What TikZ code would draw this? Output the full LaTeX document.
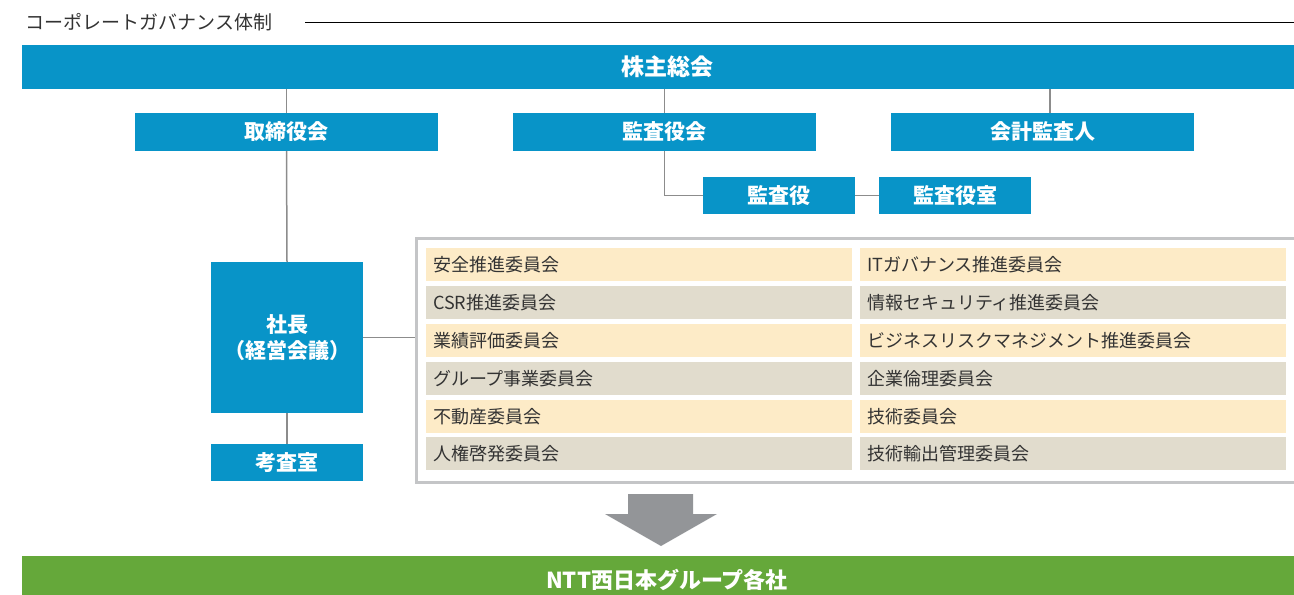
\documentclass[tikz,border=0pt]{standalone}
\usepackage{fontspec}
\setmainfont{Noto Sans CJK JP}
\usepackage{xcolor}
\usepackage{tikz}
\usetikzlibrary{positioning}
\definecolor{nttblue}{HTML}{0894C8}
\definecolor{nttgreen}{HTML}{65A83A}
\definecolor{rowcream}{HTML}{FDEBC7}
\definecolor{rowbeige}{HTML}{E1DCCD}
\definecolor{linkgray}{HTML}{8C8C8C}
\definecolor{framegray}{HTML}{C4C5C7}
\definecolor{arrowgray}{HTML}{939598}
\definecolor{ink}{HTML}{333333}

\begin{document}
\begin{tikzpicture}[x=0.5pt, y=-0.5pt, line cap=butt,
  bluebox/.style={fill=nttblue, text=white, inner sep=0pt, outer sep=0pt, anchor=north west,
    font=\fontsize{10.5pt}{13pt}\selectfont\bfseries, align=center},
  widebox/.style={bluebox, minimum width=151.5pt, minimum height=19pt},
  smallbox/.style={bluebox, minimum width=76pt, minimum height=18.5pt},
  rowcell/.style={anchor=north west, inner sep=0pt, inner xsep=3.5pt, outer sep=0pt,
    minimum width=213pt, minimum height=16.5pt, text width=206pt, align=left,
    text=ink, font=\fontsize{9pt}{11pt}\selectfont},
  oddrow/.style={rowcell, fill=rowcream},
  evenrow/.style={rowcell, fill=rowbeige},
  link/.style={draw=linkgray, line width=0.75pt}]
  \useasboundingbox (0,0) rectangle (1294,594);

  % heading
  \node[anchor=west, inner sep=0pt, text=ink, font=\fontsize{9.5pt}{11pt}\selectfont]
    (heading) at (25,22) {コーポレートガバナンス体制};
  \draw[black, line width=0.5pt] (305,22) -- (1294,22);

  % top level
  \node[bluebox, minimum width=645pt, minimum height=22pt,
    font=\fontsize{11.5pt}{13pt}\selectfont\bfseries] (soukai) at (22,45) {株主総会};
  \node[widebox] (torishimari) at (135,113) {取締役会};
  \node[widebox] (kansakai) at (513,113) {監査役会};
  \node[widebox] (kaikei) at (891,113) {会計監査人};
  \node[smallbox] (kansayaku) at (703,177) {監査役};
  \node[smallbox] (kansashitsu) at (879,177) {監査役室};
  \node[smallbox, minimum height=75.5pt] (shacho) at (211,262) {社長\\（経営会議）};
  \node[smallbox] (kousa) at (211,444) {考査室};

  % committees
  \node[draw=framegray, line width=1.5pt, anchor=north west, inner sep=0pt,
    minimum width=445pt, minimum height=122pt] (iinkai) at (415,237) {};
  \node[oddrow] (anzen) at (426,248) {安全推進委員会};
  \node[evenrow] (csr) at (426,286) {CSR推進委員会};
  \node[oddrow] (gyoseki) at (426,324) {業績評価委員会};
  \node[evenrow] (group) at (426,362) {グループ事業委員会};
  \node[oddrow] (fudosan) at (426,400) {不動産委員会};
  \node[evenrow] (jinken) at (426,437) {人権啓発委員会};
  \node[oddrow] (itgov) at (860,248) {ITガバナンス推進委員会};
  \node[evenrow] (joho) at (860,286) {情報セキュリティ推進委員会};
  \node[oddrow] (risk) at (860,324) {ビジネスリスクマネジメント推進委員会};
  \node[evenrow] (rinri) at (860,362) {企業倫理委員会};
  \node[oddrow] (gijutsu) at (860,400) {技術委員会};
  \node[evenrow] (yushutsu) at (860,437) {技術輸出管理委員会};

  % connectors
  \draw[link] (soukai.south -| torishimari.north) -- (torishimari.north);
  \draw[link] (soukai.south -| kansakai.north) -- (kansakai.north);
  \draw[link] (soukai.south -| 1050,0) -- (kaikei.north -| 1050,0);
  \draw[link] (torishimari.south) -- (shacho.north);
  \draw[link] (shacho.south) -- (kousa.north);
  \draw[link] (kansakai.south) |- (kansayaku.west);
  \draw[link] (kansayaku.east) -- (kansashitsu.west);
  \draw[link] (shacho.east) -- (shacho.east -| iinkai.west);

  % flow to group companies
  \fill[arrowgray] (628,494) -- (693,494) -- (693,514) -- (717,514) -- (661,546)
    -- (605,514) -- (628,514) -- cycle;
  \node[bluebox, fill=nttgreen, minimum width=645pt, minimum height=24pt,
    font=\fontsize{11pt}{13pt}\selectfont\bfseries] (kakusha) at (22,556) {NTT西日本グループ各社};
\end{tikzpicture}
\end{document}
